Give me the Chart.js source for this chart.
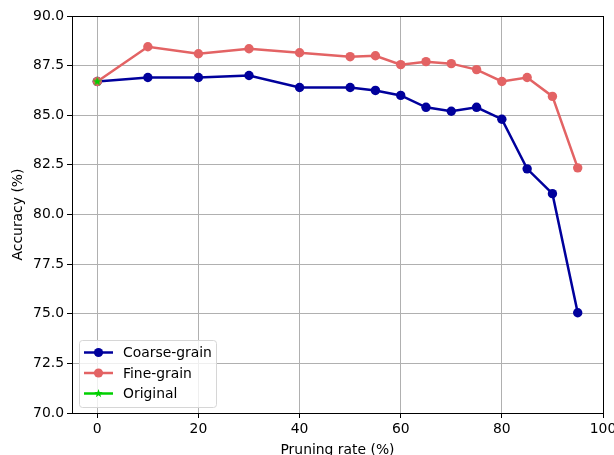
<!DOCTYPE html>
<html lang="en">
<head>
    <meta charset="UTF-8">
    <title>Accuracy vs Pruning rate</title>
    <script src="https://cdn.jsdelivr.net/npm/chart.js"></script>
    <style>
        body { margin: 0; background: #fff; }
        #wrap { width: 614px; height: 455px; }
    </style>
</head>
<body>
    <div id="wrap"><canvas id="chart" width="614" height="455"></canvas></div>

    <script>
        // ** Data **
        let rates = [0, 10, 20, 30, 40, 50, 55, 60, 65, 70, 75, 80, 85, 90, 95];
        let coarse = [86.7, 86.9, 86.9, 87.0, 86.4, 86.4, 86.25, 86.0, 85.4, 85.2, 85.4, 84.8, 82.3, 81.05, 75.05];
        let fine = [86.7, 88.45, 88.1, 88.35, 88.15, 87.95, 88.0, 87.55, 87.7, 87.6, 87.3, 86.7, 86.9, 85.95, 82.35];
        let originalRate = [0];
        let originalAcc = [86.7];
        let xTicks = [0, 20, 40, 60, 80, 100];
        let yTicks = [70, 72.5, 75, 77.5, 80, 82.5, 85, 87.5, 90];

        let FONT = "'DejaVu Sans', sans-serif";
        let blue = "#00009c";
        let red = "#e36364";
        let green = "#00d000";

        // filled star like matplotlib's '*'
        function makeStar(r, color) {
            let c = document.createElement("canvas");
            c.width = c.height = Math.ceil(r * 2 + 2);
            let g = c.getContext("2d");
            g.fillStyle = color;
            g.beginPath();
            for (let i = 0; i < 10; i++) {
                let rad = i % 2 === 0 ? r : r * 0.4;
                let a = -Math.PI / 2 + i * Math.PI / 5;
                g.lineTo(c.width / 2 + rad * Math.cos(a), c.height / 2 + rad * Math.sin(a));
            }
            g.closePath();
            g.fill();
            return c;
        }
        let star = makeStar(5, green);

        // legend in the lower left corner of the plot
        let innerLegend = {
            id: "innerLegend",
            afterDatasetsDraw(chart) {
                let ctx = chart.ctx;
                let area = chart.chartArea;
                let x = area.left + 7, y = area.bottom - 73, w = 137, h = 67;
                ctx.save();
                ctx.fillStyle = "rgba(255,255,255,0.8)";
                ctx.strokeStyle = "#d6d6d6";
                ctx.lineWidth = 1;
                ctx.beginPath();
                ctx.roundRect(x + 0.5, y + 0.5, w, h, 3);
                ctx.fill();
                ctx.stroke();
                chart.data.datasets.forEach((ds, i) => {
                    let ly = y + 12.5 + i * 20.5;
                    ctx.strokeStyle = ds.borderColor;
                    ctx.lineWidth = 2.5;
                    ctx.beginPath();
                    ctx.moveTo(x + 5, ly);
                    ctx.lineTo(x + 34, ly);
                    ctx.stroke();
                    if (ds.pointStyle === "circle") {
                        ctx.fillStyle = ds.pointBackgroundColor;
                        ctx.beginPath();
                        ctx.arc(x + 19.5, ly, 4.6, 0, Math.PI * 2);
                        ctx.fill();
                    } else {
                        let s = makeStar(4.5, green);
                        ctx.drawImage(s, x + 19.5 - s.width / 2, ly - s.height / 2);
                    }
                    ctx.fillStyle = "#000";
                    ctx.font = "13.9px " + FONT;
                    ctx.textBaseline = "middle";
                    ctx.fillText(ds.label, x + 44, ly + 1);
                });
                ctx.restore();
            }
        };

        // right and top frame lines
        let frame = {
            id: "frame",
            afterDraw(chart) {
                let a = chart.chartArea, c = chart.ctx;
                c.save();
                c.strokeStyle = "#000";
                c.lineWidth = 1;
                c.strokeRect(a.left + 0.5, a.top + 0.5, a.right - a.left, a.bottom - a.top);
                c.restore();
            }
        };

        let ctx = document.getElementById("chart").getContext("2d");
        new Chart(ctx, {
            type: "line",
            data: {
                datasets: [
                    {
                        label: "Coarse-grain",
                        data: rates.map((r, i) => ({ x: r, y: coarse[i] })),
                        borderColor: blue,
                        backgroundColor: blue,
                        pointBackgroundColor: blue,
                        pointBorderWidth: 0,
                        pointRadius: 4.7,
                        pointStyle: "circle",
                        borderWidth: 2.5,
                        order: 3
                    },
                    {
                        label: "Fine-grain",
                        data: rates.map((r, i) => ({ x: r, y: fine[i] })),
                        borderColor: red,
                        backgroundColor: red,
                        pointBackgroundColor: red,
                        pointBorderWidth: 0,
                        pointRadius: 4.7,
                        pointStyle: "circle",
                        borderWidth: 2.5,
                        order: 2
                    },
                    {
                        label: "Original",
                        data: originalRate.map((r, i) => ({ x: r, y: originalAcc[i] })),
                        borderColor: green,
                        backgroundColor: green,
                        pointStyle: star,
                        borderWidth: 2.5,
                        order: 1
                    }
                ]
            },
            options: {
                responsive: false,
                animation: false,
                layout: { padding: { top: 16, right: 11, left: 0, bottom: 0 } },
                plugins: {
                    legend: { display: false },
                    tooltip: { enabled: false }
                },
                scales: {
                    x: {
                        type: "linear",
                        min: -5,
                        max: 100,
                        afterBuildTicks: s => { s.ticks = xTicks.map(v => ({ value: v })); },
                        afterFit: s => { s.height = 42; s.paddingLeft = 0; s.paddingRight = 0; },
                        grid: { color: "#b0b0b0", lineWidth: 1, tickColor: "#000", tickLength: 5 },
                        border: { color: "#000", width: 1 },
                        ticks: { color: "#000", font: { family: FONT, size: 13.9 }, padding: 3, maxRotation: 0 },
                        title: { display: true, text: "Pruning rate (%)", color: "#000", font: { family: FONT, size: 13.9 }, padding: { top: 0, bottom: -4 } }
                    },
                    y: {
                        min: 70,
                        max: 90,
                        afterBuildTicks: s => { s.ticks = yTicks.map(v => ({ value: v })); },
                        afterFit: s => { s.width = 72; s.paddingTop = 0; s.paddingBottom = 0; },
                        grid: { color: "#b0b0b0", lineWidth: 1, tickColor: "#000", tickLength: 5 },
                        border: { color: "#000", width: 1 },
                        ticks: { color: "#000", font: { family: FONT, size: 13.9 }, padding: 3, callback: v => v.toFixed(1) },
                        title: { display: true, text: "Accuracy (%)", color: "#000", font: { family: FONT, size: 13.9 }, padding: { top: 10, bottom: 0 } }
                    }
                }
            },
            plugins: [innerLegend, frame]
        });
    </script>
</body>
</html>
